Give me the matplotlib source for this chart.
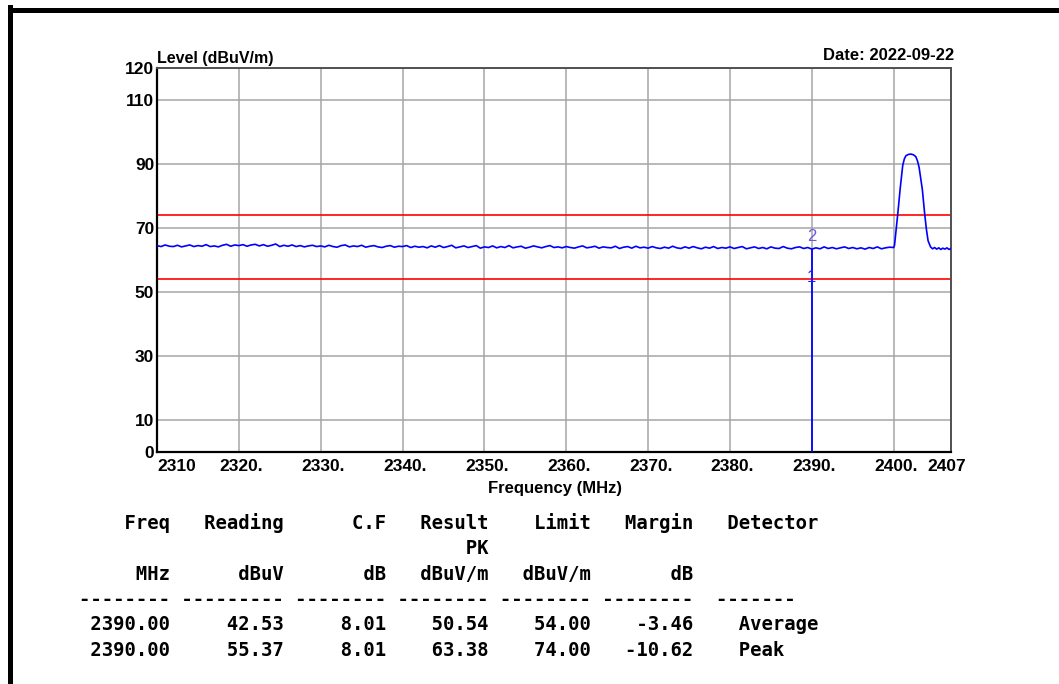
import numpy as np
import matplotlib
matplotlib.use('Agg')
import matplotlib.pyplot as plt
from matplotlib.lines import Line2D
from matplotlib.transforms import ScaledTranslation

# spectrum trace, 0.5 MHz steps from 2310 to 2399.5
noise_start = 2310.0
noise_step = 0.5
noise_level = [
    64.5, 64.2, 64.7, 64.3, 64.2, 64.6, 64.1, 64.4, 64.7, 64.2, 64.5, 64.3, 64.8, 64.2, 64.4, 64.1, 64.6, 64.9, 64.3, 64.7,
    64.5, 64.8, 64.3, 64.7, 64.9, 64.4, 64.8, 64.3, 64.6, 65.0, 64.2, 64.6, 64.3, 64.7, 64.2, 64.5, 64.1, 64.4, 64.6, 64.2,
    64.4, 64.1, 64.6, 64.2, 64.0, 64.5, 64.7, 64.1, 64.4, 64.2, 64.6, 64.0, 64.3, 64.5, 64.1, 63.9, 64.3, 64.5, 64.0, 64.3,
    64.2, 64.5, 63.9, 64.3, 64.0, 64.2, 63.8, 64.4, 64.0, 64.5, 63.9, 64.2, 64.6, 63.8, 64.1, 64.4, 63.9, 64.2, 64.5, 63.7,
    64.1, 63.9, 64.4, 63.8, 64.2, 63.9, 64.5, 63.8, 64.1, 64.3, 63.7, 64.0, 64.4, 64.1, 63.8, 64.2, 64.5, 63.9, 64.1, 63.8,
    64.2, 63.9, 63.7, 64.1, 64.4, 63.8, 64.0, 64.3, 63.7, 64.1, 63.9, 63.8, 64.3, 63.6, 64.0, 64.2, 63.7, 64.3, 63.8, 64.0,
    63.7, 64.2, 63.8, 63.6, 64.0, 63.7, 64.3, 63.8, 63.6, 64.1, 63.7, 64.2, 63.8, 63.5, 64.0, 63.7, 64.2, 63.6, 63.9, 63.7,
    64.1, 63.6, 63.9, 64.2, 63.5, 63.8, 64.1, 63.6, 63.9, 63.5, 64.1, 63.7, 63.6, 64.2, 63.7, 63.5, 63.9, 64.1, 63.6, 63.9,
    63.4, 63.8, 63.5, 64.1, 63.6, 63.9, 63.5, 63.8, 64.1, 63.6, 63.9, 63.5, 63.8, 63.4, 63.9, 63.6, 64.1, 63.5, 63.8, 64.0,
]
# carrier + tail
peak_freq = [2400.0, 2400.1, 2400.3, 2400.5, 2400.8, 2401.1, 2401.3, 2401.5, 2401.8, 2402.1, 2402.4, 2402.7,
             2402.9, 2403.1, 2403.5, 2403.8, 2404.0, 2404.2, 2404.5, 2404.75, 2405.0, 2405.25, 2405.5, 2405.75,
             2406.0, 2406.25, 2406.5, 2406.75, 2407.0]
peak_level = [63.9, 64.6, 69.5, 74.5, 82.5, 89.5, 91.6, 92.6, 93.0, 93.1, 92.9, 92.3,
              91.0, 89.0, 82.0, 74.0, 69.5, 66.0, 64.1, 63.5, 63.9, 63.4, 63.8, 63.3,
              63.7, 63.4, 63.8, 63.3, 63.6]

limit_levels = [74, 54]
marker_freq = [2390.0, 2390.0]
marker_level = [50.54, 63.38]
marker_names = ['1', '2']

xticks = [2310, 2320, 2330, 2340, 2350, 2360, 2370, 2380, 2390, 2400, 2407]
xticklabels = ['2310', '2320.', '2330.', '2340.', '2350.', '2360.', '2370.', '2380.', '2390.', '2400.', '2407']
yticks = [0, 10, 30, 50, 70, 90, 110, 120]

# table
t_head = ['Freq', 'Reading', 'C.F', 'Result', 'Limit', 'Margin', 'Detector']
t_units = ['MHz', 'dBuV', 'dB', 'dBuV/m', 'dBuV/m', 'dB']
t_freq = [2390.00, 2390.00]
t_reading = [42.53, 55.37]
t_cf = [8.01, 8.01]
t_result = [50.54, 63.38]
t_limit = [54.00, 74.00]
t_margin = [-3.46, -10.62]
t_detector = ['Average', 'Peak']

W, H = 1059, 684
fig = plt.figure(figsize=(W / 100, H / 100), dpi=100)
fig.patch.set_facecolor('white')

def fx(px):
    return px / W

def fy(py):
    return 1 - py / H

ax = fig.add_axes([fx(157), fy(452), fx(951) - fx(157), fy(68) - fy(452)])

nf = noise_start + noise_step * np.arange(len(noise_level))
freq = np.concatenate([nf, peak_freq])
level = np.concatenate([noise_level, peak_level])
ax.plot(freq, level, color='#0000ff', lw=1.2, zorder=3)

for lv in limit_levels:
    ax.axhline(lv, color='#ff0000', lw=1.2, zorder=2)

ax.vlines(marker_freq[1], 0, marker_level[1], color='#0000ff', lw=1.3, zorder=3)
mcol = ['#1a1aff', '#6a5ae0']
for i in range(len(marker_freq)):
    ax.annotate(marker_names[i], (marker_freq[i], marker_level[i]), xytext=(0, 9),
                textcoords='offset points', ha='center', va='center',
                color=mcol[i], fontsize=12, family='Liberation Sans', zorder=4)

ax.set_xlim(2310, 2407)
ax.set_ylim(0, 120)
ax.set_xticks(xticks)
ax.set_xticklabels(xticklabels)
ax.set_yticks(yticks)
ax.grid(True, color='#a6a6a6', lw=1.1, zorder=1)
ax.set_axisbelow(True)
ax.tick_params(length=0, labelsize=12.5)
ax.tick_params(axis='x', pad=5)
ax.tick_params(axis='y', pad=2)
for lab in ax.get_xticklabels() + ax.get_yticklabels():
    lab.set_fontfamily('Liberation Sans')
    lab.set_fontweight('bold')
xl = ax.get_xticklabels()
for lab in xl[1:-1]:
    lab.set_transform(lab.get_transform() + ScaledTranslation(2.5 / 100, 0, fig.dpi_scale_trans))
xl[0].set_horizontalalignment('left')
xl[-1].set_transform(xl[-1].get_transform() + ScaledTranslation(-4 / 100, 0, fig.dpi_scale_trans))

for s in ['left', 'bottom']:
    ax.spines[s].set_color('black')
    ax.spines[s].set_linewidth(1.6)
for s in ['top', 'right']:
    ax.spines[s].set_color('#505050')
    ax.spines[s].set_linewidth(1.4)

fig.text(fx(157), fy(63), 'Level (dBuV/m)', ha='left', va='baseline', fontsize=11.5,
         fontweight='bold', family='Liberation Sans')
fig.text(fx(954), fy(60), 'Date: 2022-09-22', ha='right', va='baseline', fontsize=12,
         fontweight='bold', family='Liberation Sans')
fig.text(fx(555), fy(493), 'Frequency (MHz)', ha='center', va='baseline', fontsize=12,
         fontweight='bold', family='Liberation Sans')

# page border
fig.add_artist(Line2D([fx(9.5), fx(W)], [fy(9.5), fy(9.5)], color='black', lw=3.6, transform=fig.transFigure))
fig.add_artist(Line2D([fx(9.5), fx(9.5)], [fy(7), fy(H)], color='black', lw=3.6, transform=fig.transFigure))

lines = []
lines.append('%8s %9s %8s %8s %8s %8s   %s' % tuple(t_head))
lines.append('%8s %9s %8s %8s' % ('', '', '', 'PK'))
lines.append('%8s %9s %8s %8s %8s %8s' % tuple(t_units))
lines.append('-------- --------- -------- -------- -------- --------  -------')
for i in range(len(t_freq)):
    lines.append('%8.2f %9.2f %8.2f %8.2f %8.2f %8.2f    %s' % (
        t_freq[i], t_reading[i], t_cf[i], t_result[i], t_limit[i], t_margin[i], t_detector[i]))
baselines = [529, 554.5, 580, 605, 630.5, 656]
for ln, b in zip(lines, baselines):
    fig.text(fx(79), fy(b), ln, ha='left', va='baseline', fontsize=13.6,
             family='DejaVu Sans Mono', fontweight='bold')

fig.savefig('out.png', dpi=100)
